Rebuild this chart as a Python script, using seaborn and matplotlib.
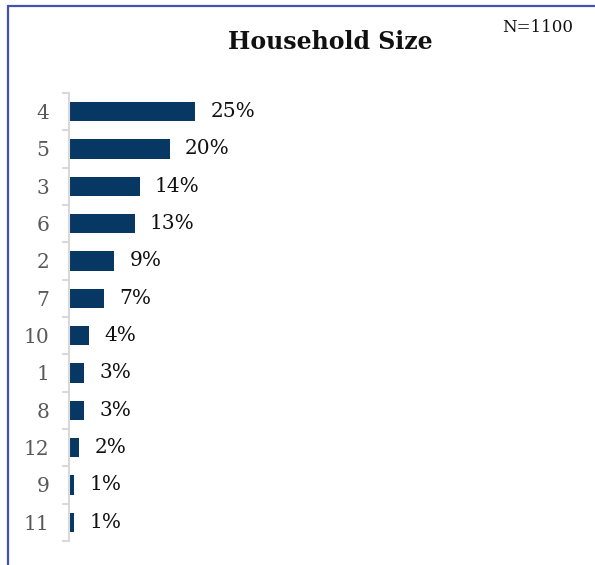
import matplotlib
matplotlib.use("Agg")
import matplotlib.pyplot as plt
from matplotlib.lines import Line2D
import seaborn as sns
import pandas as pd

# Household size distribution (share of respondents, %)
sizes = ["4", "5", "3", "6", "2", "7", "10", "1", "8", "12", "9", "11"]
shares = [25, 20, 14, 13, 9, 7, 4, 3, 3, 2, 1, 1]
sample_note = "N=1100"
title = "Household Size"

df = pd.DataFrame({"size": sizes, "share": shares})

sns.set_theme(style="white")
plt.rcParams["font.family"] = ["DejaVu Serif"]

W, H = 595, 565
fig = plt.figure(figsize=(W / 100, H / 100), dpi=100)
ax = fig.add_axes([69 / W, 1 - 541 / H, 504 / W, 448 / H])

sns.barplot(data=df, x="share", y="size", order=sizes, orient="h",
            color="#073763", saturation=1, width=0.52, linewidth=0, ax=ax)

ax.set_xlim(0, 100)
ax.set_ylim(len(sizes) - 0.5, -0.5)
ax.set_xlabel("")
ax.set_ylabel("")
ax.set_xticks([])

# value labels at the end of each bar
for i, v in enumerate(shares):
    ax.annotate(f"{v}%", xy=(v, i), xytext=(11, 0), textcoords="offset points",
                ha="left", va="center", fontsize=14.5, color="#111111")

# category axis: labels at centres, tick marks between categories
for s in ["top", "right", "bottom"]:
    ax.spines[s].set_visible(False)
ax.spines["left"].set_color("#d9d9d9")
ax.spines["left"].set_linewidth(1.5)
ax.set_yticks(range(len(sizes)))
ax.set_yticklabels(sizes)
ax.set_yticks([i - 0.5 for i in range(len(sizes) + 1)], minor=True)
ax.tick_params(axis="y", which="major", length=0, pad=14, labelsize=14.5,
               labelcolor="#595959")
ax.tick_params(axis="y", which="minor", length=5, width=1.5, color="#d9d9d9",
               left=True)

fig.text(330 / W, 1 - 42 / H, title, ha="center", va="center",
         fontsize=17, fontweight="bold", color="#111111")
fig.text(538 / W, 1 - 27 / H, sample_note, ha="center", va="center",
         fontsize=12, color="#111111")

# outer frame (top and left edges)
frame_color = "#4153AF"
fig.add_artist(Line2D([7.5 / W, 1.0], [1 - 5.5 / H, 1 - 5.5 / H],
                      color=frame_color, lw=1.6, transform=fig.transFigure))
fig.add_artist(Line2D([7.5 / W, 7.5 / W], [0, 1 - 5.5 / H],
                      color=frame_color, lw=1.6, transform=fig.transFigure))

fig.savefig("out.png", dpi=100, facecolor="white")
